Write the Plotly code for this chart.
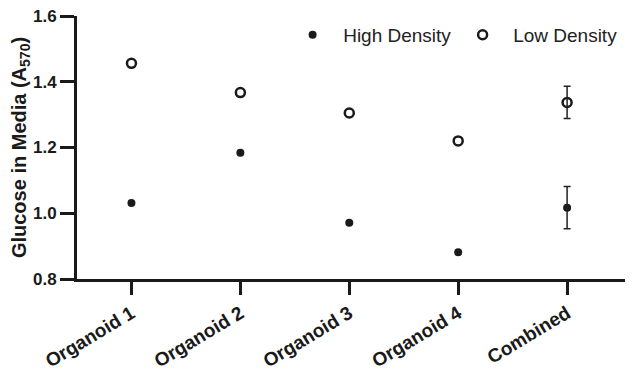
import plotly.graph_objects as go

categories = ["Organoid 1", "Organoid 2", "Organoid 3", "Organoid 4", "Combined"]
high_density = [1.031, 1.184, 0.971, 0.881, 1.017]
high_err = [None, None, None, None, 0.064]
low_density = [1.456, 1.367, 1.305, 1.220, 1.337]
low_err = [None, None, None, None, 0.049]
y_ticks = [0.8, 1.0, 1.2, 1.4, 1.6]

FONT = "Liberation Sans, Arial, sans-serif"
INK = "#1a1a1a"
x_idx = list(range(len(categories)))

fig = go.Figure()
fig.add_trace(go.Scatter(
    x=x_idx, y=high_density, mode="markers", name="\u00a0\u00a0High Density",
    marker=dict(symbol="circle", size=8, color=INK),
))
fig.add_trace(go.Scatter(
    x=x_idx, y=low_density, mode="markers", name="\u00a0\u00a0Low Density",
    marker=dict(symbol="circle-open", size=9, color=INK, line=dict(width=2.5)),
))

# error bars only where an error value exists
for vals, errs in ((high_density, high_err), (low_density, low_err)):
    xs = [x for x, e in zip(x_idx, errs) if e is not None]
    ys = [v for v, e in zip(vals, errs) if e is not None]
    es = [e for e in errs if e is not None]
    fig.add_trace(go.Scatter(
        x=xs, y=ys, mode="markers", showlegend=False, hoverinfo="skip",
        marker=dict(size=1, color="rgba(0,0,0,0)"),
        error_y=dict(type="data", array=es, visible=True, color="#222", thickness=1.5, width=3.5),
    ))

fig.update_layout(
    width=633, height=389,
    margin=dict(l=69, r=14, t=8, b=118, autoexpand=False),
    paper_bgcolor="white", plot_bgcolor="white",
    font=dict(family=FONT, color=INK),
    showlegend=True,
    legend=dict(orientation="h", x=0.392, y=0.928, xanchor="left", yanchor="middle",
                font=dict(size=19, color="#222", family=FONT),
                bgcolor="rgba(0,0,0,0)", itemwidth=30,
                entrywidth=125, entrywidthmode="pixels"),
    xaxis=dict(
        range=[-0.5, 4.55], tickmode="array", tickvals=x_idx, ticktext=categories,
        tickangle=-31, showline=True, linecolor=INK, linewidth=3,
        ticks="outside", ticklen=13, tickwidth=3, tickcolor=INK,
        showgrid=False, zeroline=False, automargin=False,
        ticklabeloverflow="allow",
        tickfont=dict(size=19, family=FONT, color=INK, weight="bold"),
    ),
    yaxis=dict(
        range=[0.8, 1.6], tickmode="array", tickvals=y_ticks,
        ticktext=[f"{v:.1f}" for v in y_ticks],
        showline=True, linecolor=INK, linewidth=3,
        ticks="outside", ticklen=14, tickwidth=3, tickcolor=INK,
        showgrid=False, zeroline=False, automargin=False,
        ticklabeloverflow="allow",
        tickfont=dict(size=17, family=FONT, color=INK, weight="bold"),
        title=dict(text="Glucose in Media (A<sub>570</sub>)",
                   font=dict(size=20, family=FONT, color=INK, weight="bold"),
                   standoff=8),
    ),
)

fig.write_html("out.html")
